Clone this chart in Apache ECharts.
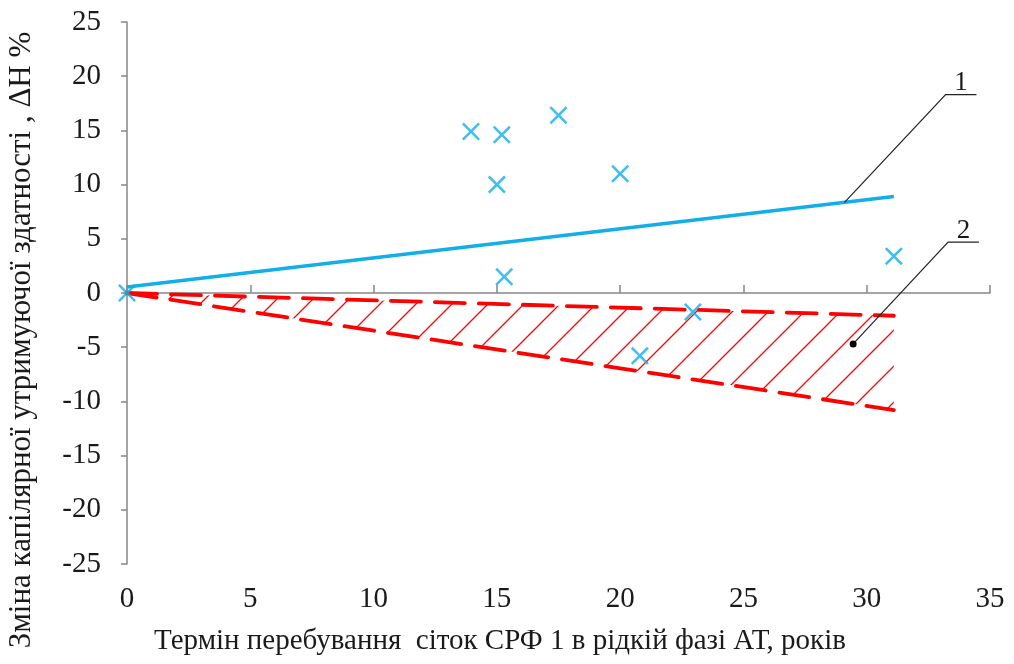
<!DOCTYPE html>
<html>
<head>
<meta charset="utf-8">
<script src="https://cdn.jsdelivr.net/npm/echarts@6/dist/echarts.min.js"></script>
<style>
html,body{margin:0;padding:0;background:#fff;}
#c{width:1014px;height:664px;}
</style>
</head>
<body>
<div id="c"></div>
<script>
// ---- data ----
var xTicks = [0, 5, 10, 15, 20, 25, 30, 35];
var yTicks = [-25, -20, -15, -10, -5, 0, 5, 10, 15, 20, 25];
var scatterPoints = [
  [0, 0], [13.95, 14.9], [15.2, 14.6], [15.0, 10.0], [15.3, 1.5],
  [17.5, 16.4], [20.0, 11.0], [20.8, -5.8], [22.95, -1.75], [31.1, 3.4]
];
var trendLine1 = [[0, 0.55], [31.1, 8.9]];
var bandUpper = [[0, 0], [31.1, -2.1]];
var bandLower = [[0, 0], [31.1, -10.8]];
var leader1 = [[29.1, 8.36], [33.2, 18.3], [34.45, 18.3]];
var leader2 = [[29.45, -4.7], [33.3, 4.7], [34.55, 4.7]];
var leaderLabels = ['1', '2'];
var xName = 'Термін перебування  сіток СРФ 1 в рідкій фазі АТ, років';
var yName = 'Зміна капілярної утримуючої здатності , ΔН %';

// ---- styles ----
var FONT = '"Liberation Serif", "Times New Roman", serif';
var BLUE = '#12AEE8';
var RED = '#FF0000';
var AXIS = '#878787';
var TEXT = '#1a1a1a';

function hatchPattern(s) {
  var cv = document.createElement('canvas');
  cv.width = s; cv.height = s;
  var ctx = cv.getContext('2d');
  ctx.strokeStyle = RED;
  ctx.lineWidth = 1.3;
  ctx.beginPath();
  ctx.moveTo(0, s); ctx.lineTo(s, 0);
  ctx.moveTo(-2, 2); ctx.lineTo(2, -2);
  ctx.moveTo(s - 2, s + 2); ctx.lineTo(s + 2, s - 2);
  ctx.stroke();
  return cv;
}

var chart = echarts.init(document.getElementById('c'), null, {renderer: 'canvas'});

var option = {
  animation: false,
  backgroundColor: '#ffffff',
  grid: {left: 127, right: 24, top: 22, bottom: 100, containLabel: false},
  xAxis: [
    {
      type: 'value', min: xTicks[0], max: xTicks[xTicks.length - 1], interval: 5,
      position: 'bottom',
      axisLine: {show: false, onZero: false},
      axisTick: {show: false},
      splitLine: {show: false},
      axisLabel: {margin: 21, color: TEXT, fontFamily: FONT, fontSize: 29}
    },
    {
      type: 'value', min: xTicks[0], max: xTicks[xTicks.length - 1], interval: 5,
      position: 'bottom',
      axisLine: {show: true, onZero: true, lineStyle: {color: AXIS, width: 1.5}},
      axisTick: {show: true, inside: true, length: 8, lineStyle: {color: AXIS, width: 1.5}},
      splitLine: {show: false},
      axisLabel: {show: false}
    }
  ],
  yAxis: {
    type: 'value', min: yTicks[0], max: yTicks[yTicks.length - 1], interval: 5,
    axisLine: {show: true, onZero: false, lineStyle: {color: AXIS, width: 1.5}},
    axisTick: {show: true, inside: false, length: 6, lineStyle: {color: AXIS, width: 1.5}},
    splitLine: {show: false},
    axisLabel: {margin: 26, color: TEXT, fontFamily: FONT, fontSize: 29}
  },
  series: [
    {
      name: 'band', type: 'custom', xAxisIndex: 0, z: 1,
      data: [0],
      renderItem: function (params, api) {
        var pts = [];
        for (var i = 0; i < bandUpper.length; i++) pts.push(api.coord(bandUpper[i]));
        for (var j = bandLower.length - 1; j >= 0; j--) pts.push(api.coord(bandLower[j]));
        return {
          type: 'polygon',
          shape: {points: pts},
          style: {fill: {image: hatchPattern(36), repeat: 'repeat'}, stroke: null}
        };
      }
    },
    {
      name: 'upper', type: 'line', xAxisIndex: 0, data: bandUpper, symbol: 'none', z: 3,
      lineStyle: {color: RED, width: 3.8, type: [30, 14], cap: 'round'}
    },
    {
      name: 'lower', type: 'line', xAxisIndex: 0, data: bandLower, symbol: 'none', z: 3,
      lineStyle: {color: RED, width: 3.8, type: [30, 14], cap: 'round'}
    },
    {
      name: 'trend', type: 'line', xAxisIndex: 0, data: trendLine1, symbol: 'none', z: 3,
      lineStyle: {color: BLUE, width: 3.5}
    },
    {
      name: 'points', type: 'scatter', xAxisIndex: 0, data: scatterPoints, z: 4,
      symbol: 'path://M0,2L2,0L10,8L18,0L20,2L12,10L20,18L18,20L10,12L2,20L0,18L8,10Z',
      symbolSize: 18,
      itemStyle: {color: BLUE}
    },
    {
      name: 'leaders', type: 'custom', xAxisIndex: 0, z: 5,
      data: [0, 1],
      renderItem: function (params, api) {
        var idx = params.dataIndex;
        var L = idx === 0 ? leader1 : leader2;
        var p0 = api.coord(L[0]), p1 = api.coord(L[1]), p2 = api.coord(L[2]);
        var children = [
          {type: 'polyline', shape: {points: [p0, p1, p2]}, style: {stroke: '#222', lineWidth: 1.2, fill: null}},
          {type: 'text', x: (p1[0] + p2[0]) / 2, y: p1[1] + 2,
            style: {text: leaderLabels[idx], font: '27px ' + FONT, fill: TEXT, align: 'center', verticalAlign: 'bottom'}}
        ];
        if (idx === 1) {
          children.push({type: 'circle', shape: {cx: p0[0], cy: p0[1], r: 3.5}, style: {fill: '#000'}});
        }
        return {type: 'group', children: children};
      }
    }
  ],
  graphic: [
    {type: 'text', x: 500, y: 641,
      style: {text: xName, font: '29px ' + FONT, fill: TEXT, align: 'center', verticalAlign: 'middle'}},
    {type: 'text', x: 22, y: 340, rotation: Math.PI / 2,
      style: {text: yName, font: '31px ' + FONT, fill: TEXT, align: 'center', verticalAlign: 'middle'}}
  ]
};
chart.setOption(option);
</script>
</body>
</html>
